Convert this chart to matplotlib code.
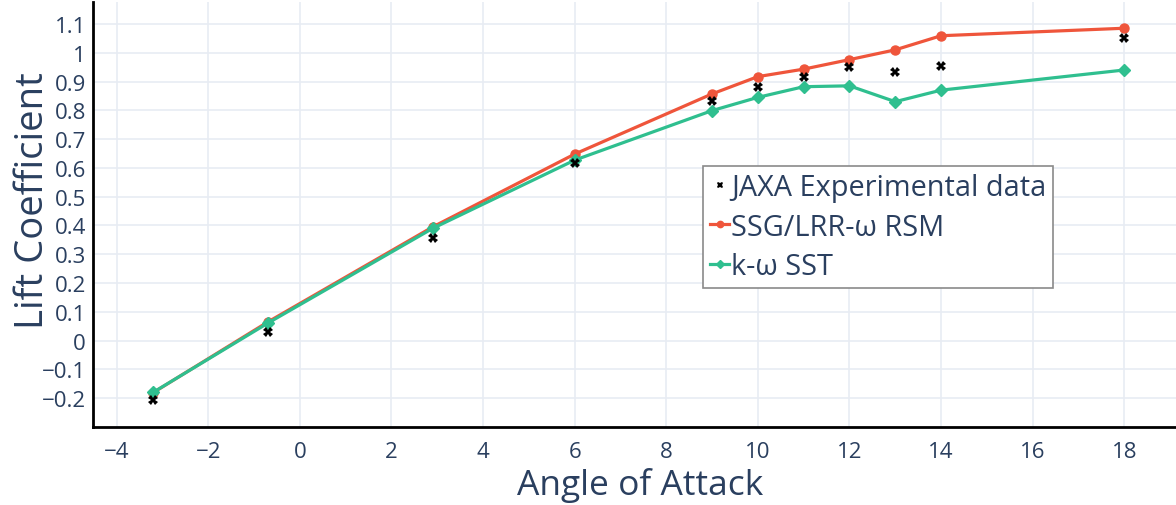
import numpy as np
import matplotlib
matplotlib.use("Agg")
import matplotlib.pyplot as plt
import matplotlib.ticker as mticker

# ── Data ──────────────────────────────────────────────────────────────────────
aoa_model = [-3.2, -0.7, 2.9, 6, 9, 10, 11, 12, 13, 14, 18]
cl_rsm = [-0.180, 0.065, 0.395, 0.648, 0.857, 0.917, 0.943, 0.976, 1.010, 1.059, 1.085]
cl_sst = [-0.179, 0.061, 0.390, 0.627, 0.799, 0.845, 0.882, 0.885, 0.830, 0.870, 0.940]

aoa_exp = [-3.2, -0.7, 2.9, 6, 9, 10, 11, 12, 13, 14, 18]
cl_exp = [-0.205, 0.031, 0.355, 0.617, 0.831, 0.880, 0.915, 0.949, 0.932, 0.953, 1.051]

x_ticks = list(range(-4, 19, 2))
y_ticks = [round(v, 1) for v in np.arange(-0.2, 1.15, 0.1)]

TEXT = "#2a3f5f"
GRID = "#e8ecf3"
RED = "#ef553b"
GREEN = "#2fbf8f"

plt.rcParams["font.family"] = ["Open Sans", "DejaVu Sans"]

fig = plt.figure(figsize=(11.76, 5.06), dpi=100)
ax = fig.add_axes([0.079, 0.154, 0.921, 0.84])

ax.plot(aoa_exp, cl_exp, linestyle="none", marker="X", color="black",
        markersize=7, markeredgewidth=0, label="JAXA Experimental data", zorder=4)
ax.plot(aoa_model, cl_rsm, color=RED, linewidth=2.3, marker="o", markersize=6.5,
        label="SSG/LRR-ω RSM", zorder=3)
ax.plot(aoa_model, cl_sst, color=GREEN, linewidth=2.3, marker="D", markersize=6,
        label="k-ω SST", zorder=3)

ax.set_xlim(-4.52, 19.13)
ax.set_ylim(-0.30, 1.176)
ax.set_xticks(x_ticks)
ax.set_yticks(y_ticks)
fmt = mticker.FuncFormatter(lambda v, p: f"{v:g}".replace("-", "−"))
ax.xaxis.set_major_formatter(fmt)
ax.yaxis.set_major_formatter(fmt)
ax.tick_params(axis="both", length=0, labelsize=16, labelcolor=TEXT)
ax.tick_params(axis="x", pad=10)
ax.tick_params(axis="y", pad=5)
ax.grid(True, color=GRID, linewidth=1.2)
ax.set_axisbelow(True)

for side in ["top", "right"]:
    ax.spines[side].set_visible(False)
for side in ["left", "bottom"]:
    ax.spines[side].set_color("black")
    ax.spines[side].set_linewidth(2)

ax.set_xlabel("Angle of Attack", fontsize=25.5, color=TEXT)
ax.set_ylabel("Lift Coefficient", fontsize=27.5, color=TEXT)
ax.xaxis.set_label_coords(0.505, -0.095)
ax.yaxis.set_label_coords(-0.038, 0.536)

leg = ax.legend(loc="upper left", bbox_to_anchor=(0.598, 0.670),
                bbox_transform=fig.transFigure, borderaxespad=0,
                fontsize=20.8, frameon=True, fancybox=False, framealpha=1,
                edgecolor="#8a8a8a", handlelength=0.65, handletextpad=0.06,
                labelspacing=0.36, borderpad=0.25, markerscale=0.7)
leg.get_frame().set_linewidth(1.2)
for t in leg.get_texts():
    t.set_color(TEXT)

fig.savefig("out.png", dpi=100)
